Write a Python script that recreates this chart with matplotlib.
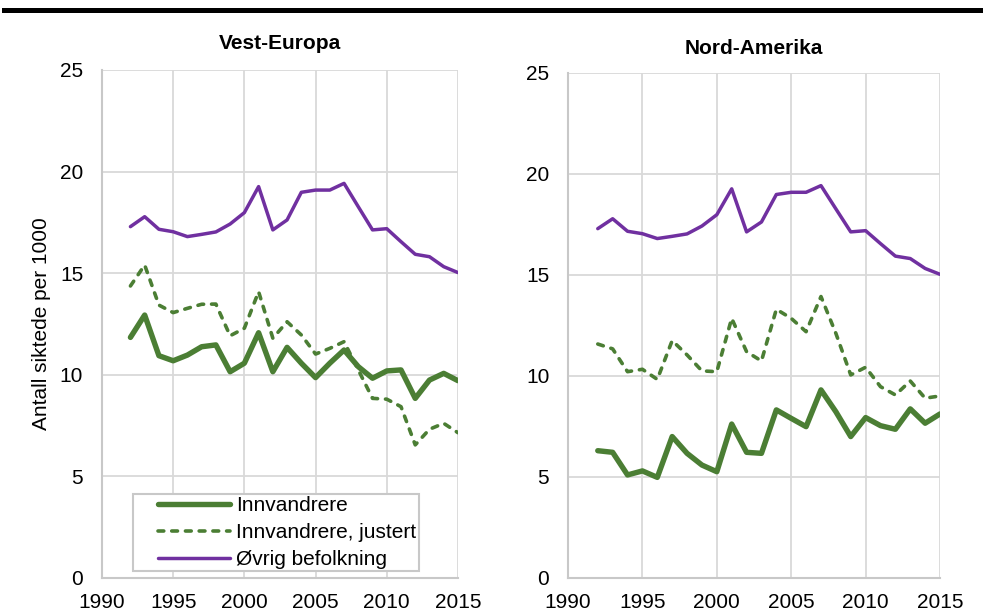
import matplotlib
matplotlib.use('Agg')
import matplotlib.pyplot as plt
from matplotlib.lines import Line2D
from matplotlib.legend_handler import HandlerLine2D

years = list(range(1992, 2016))

# Vest-Europa
we_innv = [11.84, 12.94, 10.94, 10.69, 10.97, 11.38, 11.47, 10.15, 10.57, 12.07, 10.15, 11.35,
           10.57, 9.86, 10.57, 11.22, 10.40, 9.83, 10.19, 10.24, 8.84, 9.74, 10.07, 9.71]
we_just = [14.37, 15.40, 13.43, 13.06, 13.27, 13.47, 13.48, 11.92, 12.29, 14.09, 11.80, 12.61,
           11.96, 11.02, 11.30, 11.63, 10.24, 8.84, 8.80, 8.43, 6.55, 7.32, 7.61, 7.15]

# Nord-Amerika
na_innv = [6.30, 6.22, 5.10, 5.30, 4.98, 7.00, 6.17, 5.59, 5.26, 7.62, 6.22, 6.17,
           8.32, 7.90, 7.49, 9.31, 8.23, 7.00, 7.94, 7.54, 7.36, 8.37, 7.66, 8.12]
na_just = [11.58, 11.34, 10.21, 10.33, 9.83, 11.75, 11.04, 10.25, 10.21, 12.85, 11.20, 10.74,
           13.30, 12.85, 12.19, 13.93, 12.11, 10.05, 10.43, 9.47, 9.06, 9.75, 8.90, 9.01]

# Øvrig befolkning (same in both panels)
ovrig = [17.29, 17.78, 17.16, 17.04, 16.80, 16.91, 17.03, 17.42, 17.98, 19.26, 17.13, 17.62,
         18.98, 19.09, 19.09, 19.42, 18.27, 17.13, 17.19, 16.55, 15.93, 15.81, 15.32, 15.03]

labels = ["Innvandrere", "Innvandrere, justert", "Øvrig befolkning"]
green = '#4b7e34'
purple = '#7030a0'
grid_col = '#d9d9d9'
dash = (0, (1.6, 2.2))

plt.rcParams['font.family'] = ['Liberation Sans', 'DejaVu Sans']

fig = plt.figure(figsize=(9.87, 6.16), dpi=100)
ax1 = fig.add_axes([0.1033, 0.0617, 0.3607, 0.8247])
ax2 = fig.add_axes([0.5755, 0.0617, 0.3769, 0.8200])


def panel(ax, innv, just, title, tpad):
    ax.plot(years, innv, color=green, lw=3.9, solid_capstyle='round', solid_joinstyle='round', zorder=3)
    ax.plot(years, just, color=green, lw=2.6, ls=dash, dash_capstyle='round', zorder=3)
    ax.plot(years, ovrig, color=purple, lw=2.5, solid_capstyle='round', solid_joinstyle='round', zorder=3)
    ax.set_xlim(1990, 2015)
    ax.set_ylim(0, 25)
    ax.set_xticks(range(1990, 2016, 5))
    ax.set_yticks(range(0, 26, 5))
    ax.grid(True, color=grid_col, lw=1.3)
    ax.set_axisbelow(True)
    for s in ['top', 'right']:
        ax.spines[s].set_visible(False)
    for s in ['left', 'bottom']:
        ax.spines[s].set_color('#c8c8c8')
        ax.spines[s].set_linewidth(1.5)
    ax.tick_params(length=0, labelsize=15)
    ax.tick_params(axis='x', pad=10.5)
    ax.tick_params(axis='y', pad=13.5)
    ax.set_title(title, fontsize=15, fontweight='bold', pad=tpad)


panel(ax1, we_innv, we_just, "Vest-Europa", 15)
panel(ax2, na_innv, na_just, "Nord-Amerika", 13.5)
ax1.set_ylabel("Antall siktede per 1000", fontsize=15)
ax1.yaxis.set_label_coords(-0.143, 0.5)

handles = [Line2D([], [], color=green, lw=3.9, solid_capstyle='round'),
           Line2D([], [], color=green, lw=2.6, ls=dash, dash_capstyle='round'),
           Line2D([], [], color=purple, lw=2.5, solid_capstyle='round')]
leg = ax1.legend(handles, labels, loc='lower left', bbox_to_anchor=(0.087, 0.014), borderaxespad=0,
                 fontsize=15, frameon=True, fancybox=False, edgecolor='#c8c8c8', framealpha=1,
                 handlelength=4.57, handletextpad=0.3, labelspacing=0.37, borderpad=0.1,
                 handler_map={Line2D: HandlerLine2D(xpad=1.1)})
leg.get_frame().set_linewidth(1.5)

# thick rule at the top of the figure
fig.add_artist(Line2D([0.004, 0.993], [0.983, 0.983], color='black', lw=3.6, transform=fig.transFigure))

fig.savefig('out.png', dpi=100)
